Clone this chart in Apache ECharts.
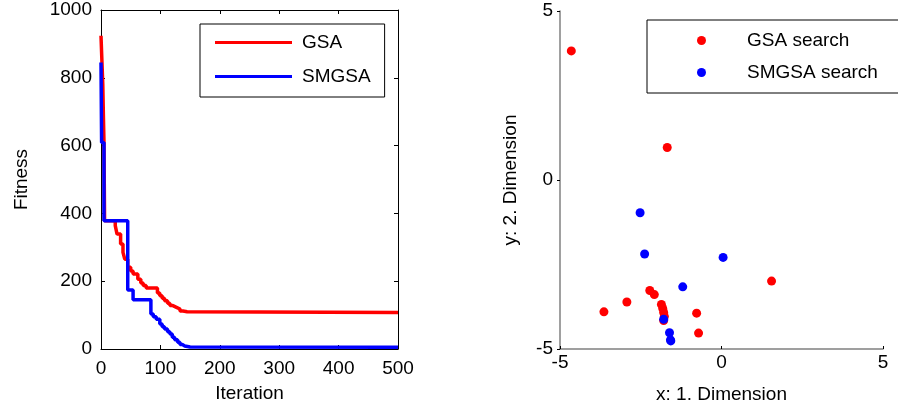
<!DOCTYPE html>
<html>
<head>
<meta charset="utf-8">
<script src="https://cdn.jsdelivr.net/npm/echarts@6/dist/echarts.min.js"></script>
<style>
    html, body { margin: 0; padding: 0; background: #fff; }
    #main { width: 898px; height: 417px; }
</style>
</head>
<body>
<div id="main"></div>
<script>
// 收敛曲线数据（每个点表示从该迭代开始的适应度）
var gsaIter = [0, 1, 3, 4, 5, 6, 24, 27, 33, 37, 40, 45, 50, 54, 62, 67, 71, 76, 95, 99, 103, 107, 112, 116, 121, 127, 133, 138, 145, 500];
var gsaFit = [924, 875, 780, 690, 610, 378, 364, 339, 310, 285, 265, 241, 230, 221, 206, 195, 187, 180, 165, 157, 150, 142, 135, 128, 123, 118, 112, 110, 108, 108];
var smgsaIter = [0, 1, 5, 45, 54, 84, 88, 93, 99, 103, 107, 112, 116, 120, 124, 129, 133, 137, 141, 150, 500];
var smgsaFit = [845, 609, 378, 174, 145, 103, 95, 88, 74, 66, 59, 51, 44, 35, 27, 20, 13, 9, 6, 5, 5];

// 搜索点
var gsaX = [-4.65, -1.68, 1.55, -2.22, -2.08, -2.93, -3.64, -1.86, -1.82, -1.79, -1.77, -1.79, -0.77, -0.71];
var gsaY = [3.82, 0.96, -2.99, -3.27, -3.39, -3.61, -3.90, -3.68, -3.80, -3.92, -4.04, -4.16, -3.94, -4.53];
var smgsaX = [-2.52, -2.38, 0.05, -1.20, -1.79, -1.61, -1.58, -1.57];
var smgsaY = [-0.97, -2.19, -2.29, -3.16, -4.12, -4.52, -4.73, -4.76];

var fitTicks = [0, 200, 400, 600, 800, 1000];
var iterTicks = [0, 100, 200, 300, 400, 500];
var dimTicks = [-5, 0, 5];

function pairs(a, b) {
    var out = [];
    for (var i = 0; i < a.length; i++) out.push([a[i], b[i]]);
    return out;
}
function plain(v) { return String(v); }

var font = 'Liberation Sans';
var fs = 19;
var myChart = echarts.init(document.getElementById('main'));

// 左图四周的黑框坐标轴
var boxAxis = {
    axisLine: { show: true, onZero: false, lineStyle: { color: '#000', width: 1 } },
    axisTick: { show: true, inside: true, length: 4, lineStyle: { color: '#000' } },
    splitLine: { show: false }
};

var option = {
    animation: false,
    textStyle: { fontFamily: font },
    grid: [
        { left: 101, top: 10, width: 297, height: 339 },
        { left: 560, top: 11, width: 323, height: 338 }
    ],
    legend: [
        {
            orient: 'vertical',
            left: 200, top: 24,
            padding: [9, 14, 11, 15],
            itemGap: 15,
            icon: 'rect',
            itemWidth: 77, itemHeight: 3,
            borderColor: '#000', borderWidth: 1,
            textStyle: { fontSize: fs, color: '#000', padding: [0, 0, 0, 5] },
            data: ['GSA', 'SMGSA']
        },
        {
            orient: 'vertical',
            left: 647, top: 20,
            padding: [11, 25, 11, 50],
            itemGap: 13,
            itemWidth: 9, itemHeight: 9,
            borderColor: '#000', borderWidth: 1,
            textStyle: { fontSize: fs, color: '#000', padding: [0, 0, 0, 36] },
            data: ['GSA search', 'SMGSA search']
        }
    ],
    xAxis: [
        Object.assign({}, boxAxis, {
            gridIndex: 0, type: 'value', min: 0, max: 500, interval: 100,
            name: 'Iteration', nameLocation: 'middle', nameGap: 35,
            nameTextStyle: { fontSize: fs, color: '#000' },
            axisLabel: { fontSize: fs, color: '#000', margin: 10,
                customValues: iterTicks, formatter: plain }
        }),
        Object.assign({}, boxAxis, {
            gridIndex: 0, type: 'value', position: 'top', min: 0, max: 500, interval: 100,
            axisLabel: { show: false }
        }),
        {
            gridIndex: 1, type: 'value', min: -5, max: 5, interval: 5,
            name: 'x: 1. Dimension', nameLocation: 'middle', nameGap: 36,
            nameTextStyle: { fontSize: fs, color: '#000' },
            axisLine: { show: true, onZero: false, lineStyle: { color: '#808080', width: 1.5 } },
            axisTick: { show: true, inside: true, length: 3, lineStyle: { color: '#000' } },
            axisLabel: { fontSize: fs, color: '#000', margin: 4, customValues: dimTicks, formatter: plain },
            splitLine: { show: false }
        }
    ],
    yAxis: [
        Object.assign({}, boxAxis, {
            gridIndex: 0, type: 'value', min: 0, max: 1000, interval: 200,
            name: 'Fitness', nameLocation: 'middle', nameGap: 70,
            nameTextStyle: { fontSize: fs, color: '#000' },
            axisLabel: { fontSize: fs, color: '#000', margin: 9,
                customValues: fitTicks, formatter: plain }
        }),
        Object.assign({}, boxAxis, {
            gridIndex: 0, type: 'value', position: 'right', min: 0, max: 1000, interval: 200,
            axisLabel: { show: false }
        }),
        {
            gridIndex: 1, type: 'value', min: -5, max: 5, interval: 5,
            name: 'y: 2. Dimension', nameLocation: 'middle', nameGap: 40,
            nameTextStyle: { fontSize: fs, color: '#000' },
            axisLine: { show: true, onZero: false, lineStyle: { color: '#808080', width: 1.5 } },
            axisTick: { show: true, inside: false, length: 3, lineStyle: { color: '#000' } },
            axisLabel: { fontSize: fs, color: '#000', margin: 7, customValues: dimTicks, formatter: plain },
            splitLine: { show: false }
        }
    ],
    series: [
        {
            name: 'GSA', type: 'line', xAxisIndex: 0, yAxisIndex: 0,
            step: 'end', symbol: 'none',
            lineStyle: { color: '#ff0000', width: 3.5 },
            itemStyle: { color: '#ff0000' },
            data: pairs(gsaIter, gsaFit)
        },
        {
            name: 'SMGSA', type: 'line', xAxisIndex: 0, yAxisIndex: 0,
            step: 'end', symbol: 'none',
            lineStyle: { color: '#0000ff', width: 3.5 },
            itemStyle: { color: '#0000ff' },
            data: pairs(smgsaIter, smgsaFit)
        },
        {
            name: 'GSA search', type: 'scatter', xAxisIndex: 2, yAxisIndex: 2,
            symbol: 'circle', symbolSize: 9,
            itemStyle: { color: '#ff0000', opacity: 1 },
            data: pairs(gsaX, gsaY)
        },
        {
            name: 'SMGSA search', type: 'scatter', xAxisIndex: 2, yAxisIndex: 2,
            symbol: 'circle', symbolSize: 9,
            itemStyle: { color: '#0000ff', opacity: 1 },
            data: pairs(smgsaX, smgsaY)
        }
    ]
};

myChart.setOption(option);
</script>
</body>
</html>
